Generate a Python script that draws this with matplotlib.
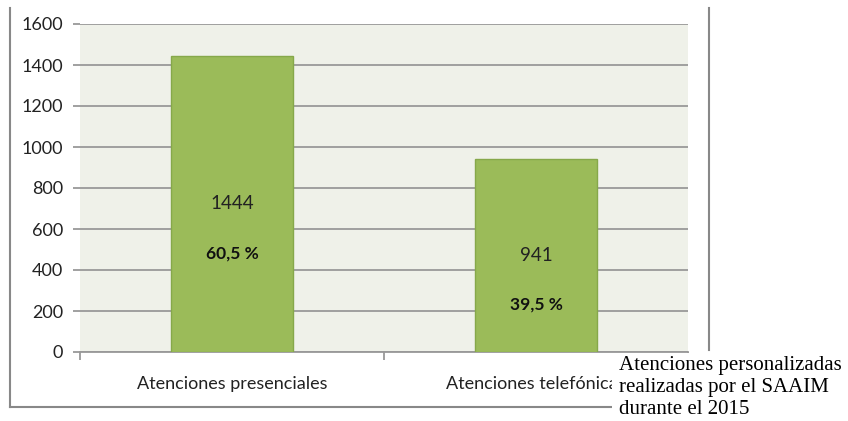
import matplotlib
matplotlib.use("Agg")
import matplotlib.pyplot as plt
from matplotlib.lines import Line2D
from matplotlib.patches import Rectangle

categories = ["Atenciones presenciales", "Atenciones telefónicas"]
values = [1444, 941]
percents = ["60,5 %", "39,5 %"]
yticks = [0, 200, 400, 600, 800, 1000, 1200, 1400, 1600]
caption = "Atenciones personalizadas\nrealizadas por el SAAIM\ndurante el 2015"

W, H = 848, 421
plt.rcParams["font.family"] = ["Lato", "DejaVu Sans"]

fig = plt.figure(figsize=(W / 100, H / 100), dpi=100)
fig.patch.set_facecolor("white")


def fx(px):
    return px / W


def fy(py):
    return 1 - py / H


ax = fig.add_axes([fx(80), fy(352), fx(688) - fx(80), fy(24) - fy(352)])
ax.set_facecolor("#eff1e9")

x = list(range(len(categories)))
ax.bar(x, values, width=0.4, color="#9bbb59", edgecolor="#86a84a", linewidth=1, zorder=3)
ax.set_xlim(-0.5, len(categories) - 0.5)
ax.set_ylim(0, 1600)
ax.set_yticks(yticks)
ax.yaxis.grid(True, color="#999999", linewidth=1.3, zorder=0)
ax.tick_params(axis="y", length=5, width=1.3, color="#999999", labelsize=13, pad=7,
               labelcolor="#222222")

ax.set_xticks(x)
ax.set_xticklabels(categories, fontsize=13, color="#222222")
ax.set_xticks([-0.5, 0.5, 1.5], minor=True)
ax.tick_params(axis="x", which="major", length=0, pad=17)
ax.tick_params(axis="x", which="minor", length=6, width=1.3, color="#999999")

for s in ["top", "right", "left"]:
    ax.spines[s].set_visible(False)
ax.spines["bottom"].set_color("#999999")
ax.spines["bottom"].set_linewidth(1.3)

for i, (v, p) in enumerate(zip(values, percents)):
    ax.text(i, v * 0.5, str(v), ha="center", va="center", fontsize=13.5, color="#222222", zorder=4)
    ax.text(i, v * 0.5 - 240, p, ha="center", va="center", fontsize=12.5, fontweight="bold",
            color="#111111", zorder=4)

# outer chart frame (partly covered)
frame = "#888888"
fig.add_artist(Line2D([fx(10), fx(10)], [fy(8), fy(407)], color=frame, lw=1.5))
fig.add_artist(Line2D([fx(10), fx(616)], [fy(407), fy(407)], color=frame, lw=1.5))
fig.add_artist(Line2D([fx(709), fx(709)], [fy(8), fy(350)], color=frame, lw=1.5))

# caption box overlapping the chart
fig.add_artist(Rectangle((fx(612), 0), 1 - fx(612), fy(353), transform=fig.transFigure,
                         facecolor="white", edgecolor="none", zorder=5))
fig.text(fx(619), fy(356), caption, ha="left", va="top", fontsize=15, linespacing=1.22,
         family=["Liberation Serif", "DejaVu Serif"], color="black", zorder=6)

fig.savefig("out.png", dpi=100)
